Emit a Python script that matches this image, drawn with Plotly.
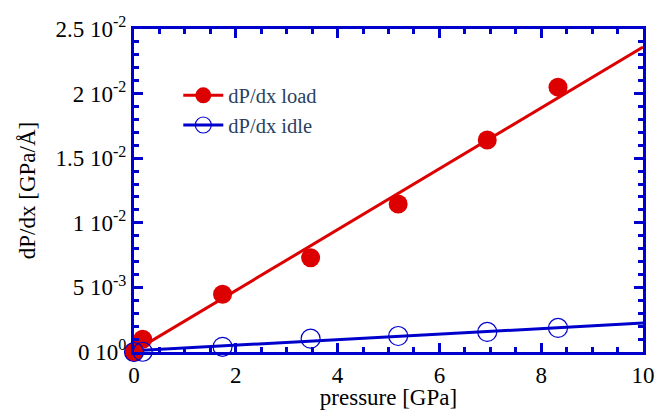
import plotly.graph_objects as go

# data
pressure = [0.0, 0.17, 1.74, 3.47, 5.19, 6.94, 8.33]
dpdx_load = [0.0, 0.00098, 0.00447, 0.0073, 0.01146, 0.01641, 0.0205]
dpdx_idle = [0.0, 0.00002, 0.0004, 0.00103, 0.00124, 0.00155, 0.00186]

fit_x = [0.0, 10.0]
fit_load = [0.00005, 0.0236]
fit_idle = [0.0001, 0.00224]

ytick_vals = [0, 0.005, 0.01, 0.015, 0.02, 0.025]
ytick_text = ["0 10<sup>0</sup>", "5 10<sup>-3</sup>", "1 10<sup>-2</sup>",
              "1.5 10<sup>-2</sup>", "2 10<sup>-2</sup>", "2.5 10<sup>-2</sup>"]
xtick_vals = [0, 2, 4, 6, 8, 10]

RED = "#dd0000"
BLUE = "#0000cc"
FONT = "Liberation Serif"

fig = go.Figure()
fig.add_trace(go.Scatter(x=fit_x, y=fit_load, mode="lines",
                         line=dict(color=RED, width=3), showlegend=False))
fig.add_trace(go.Scatter(x=fit_x, y=fit_idle, mode="lines",
                         line=dict(color=BLUE, width=3), showlegend=False))
fig.add_trace(go.Scatter(x=pressure, y=dpdx_load, mode="markers",
                         marker=dict(color=RED, size=19, line=dict(width=0)),
                         showlegend=False, cliponaxis=False))
fig.add_trace(go.Scatter(x=pressure, y=dpdx_idle, mode="markers",
                         marker=dict(symbol="circle-open", color=BLUE, size=19,
                                     line=dict(width=1.2)),
                         showlegend=False, cliponaxis=False))
# legend entries
fig.add_trace(go.Scatter(x=[None], y=[None], mode="lines+markers", name="dP/dx load",
                         line=dict(color=RED, width=3),
                         marker=dict(color=RED, size=19)))
fig.add_trace(go.Scatter(x=[None], y=[None], mode="lines+markers", name="dP/dx idle",
                         line=dict(color=BLUE, width=3),
                         marker=dict(symbol="circle-open", color=BLUE, size=19,
                                     line=dict(width=1.2))))

axis_common = dict(showline=True, linecolor=BLUE, linewidth=3, mirror="ticks",
                   ticks="inside", tickcolor=BLUE, tickwidth=3, ticklen=9,
                   showgrid=False, zeroline=False, automargin=False,
                   tickfont=dict(family=FONT, size=23, color="black"))

fig.update_xaxes(range=[0, 10], tickvals=xtick_vals,
                 minor=dict(dtick=0.5, ticks="inside", ticklen=5, tickcolor=BLUE, tickwidth=3),
                 title=dict(text="pressure [GPa]", font=dict(family=FONT, size=23, color="black"),
                            standoff=0),
                 **axis_common)
fig.update_yaxes(range=[0, 0.025], tickvals=ytick_vals, ticktext=ytick_text,
                 minor=dict(dtick=0.001, ticks="inside", ticklen=5, tickcolor=BLUE, tickwidth=3),
                 title=dict(text="dP/dx [GPa/Å]", font=dict(family=FONT, size=23, color="black"),
                            standoff=14),
                 **axis_common)

fig.update_layout(
    width=657, height=410,
    margin=dict(l=134, r=14, t=29, b=58),
    plot_bgcolor="white", paper_bgcolor="white",
    legend=dict(x=0.087, y=0.856, xanchor="left", yanchor="top",
                bgcolor="rgba(0,0,0,0)", font=dict(family=FONT, size=20.5),
                itemwidth=40, tracegroupgap=0),
)

fig.write_html("out.html", config={"displayModeBar": False},
               post_script="document.body.style.margin='0';document.body.style.overflow='hidden';")
